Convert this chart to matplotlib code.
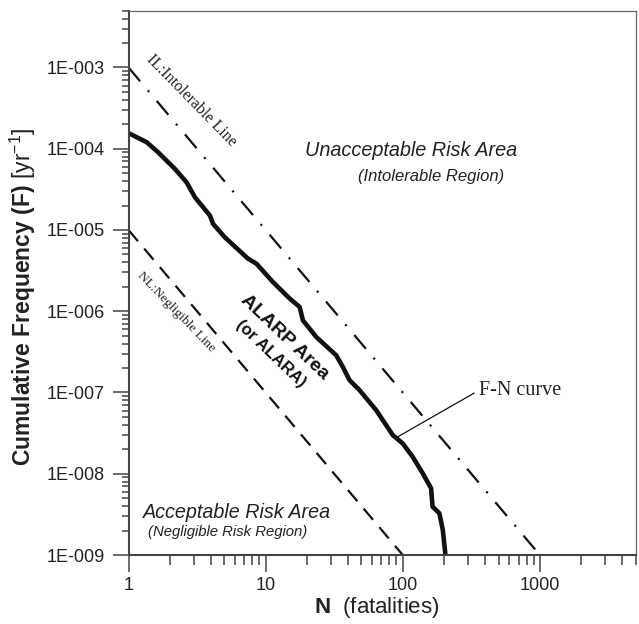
import matplotlib
matplotlib.use("Agg")
import matplotlib.pyplot as plt
from matplotlib.ticker import LogLocator, FuncFormatter, NullFormatter, FixedLocator
import numpy as np

plt.rcParams['font.family'] = ['Liberation Sans', 'DejaVu Sans']
plt.rcParams['mathtext.fontset'] = 'custom'
plt.rcParams['mathtext.rm'] = 'Liberation Sans'
plt.rcParams['mathtext.bf'] = 'Liberation Sans:bold'
plt.rcParams['mathtext.it'] = 'Liberation Sans:italic'
plt.rcParams['lines.scale_dashes'] = False

# F-N curve (fatalities N vs cumulative frequency F per year)
fn_N = [1.0, 1.36, 1.65, 2.18, 2.65, 3.05, 3.92, 4.14, 5.03, 7.45, 8.57, 11.3,
        15.0, 17.7, 18.7, 23.4, 32.7, 36.6, 40.9, 48.4, 64.0, 84.6, 100, 118,
        140, 161, 165, 185, 196, 205]
fn_F = [1.56e-4, 1.2e-4, 9.0e-5, 5.65e-5, 3.87e-5, 2.53e-5, 1.51e-5, 1.19e-5,
        8.16e-6, 4.43e-6, 3.85e-6, 2.29e-6, 1.43e-6, 1.13e-6, 7.73e-7, 4.82e-7,
        2.87e-7, 2.06e-7, 1.42e-7, 1.07e-7, 6.06e-8, 2.99e-8, 2.36e-8, 1.62e-8,
        1.01e-8, 6.62e-9, 3.94e-9, 3.26e-9, 2.03e-9, 1.0e-9]

# Criterion lines: F = C / N^2
il_N = [1, 1000]
il_F = [1e-3, 1e-9]
nl_N = [1, 100]
nl_F = [1e-5, 1e-9]

# annotated point on the F-N curve
fn_label_N, fn_label_F = 92, 2.85e-8

x_major = [1, 10, 100, 1000]
y_major = [1e-9, 1e-8, 1e-7, 1e-6, 1e-5, 1e-4, 1e-3]

W, H = 639, 624
fig = plt.figure(figsize=(W / 100, H / 100), dpi=100)
L, R, T, B = 128.5, 635.7, 10.7, 555.0
ax = fig.add_axes([L / W, 1 - B / H, (R - L) / W, (B - T) / H])
ax.set_xscale('log')
ax.set_yscale('log')
ax.set_xlim(1, 5000)
ax.set_ylim(1e-9, 5e-3)

ink = '#111111'
txt = '#222222'

ax.plot(il_N, il_F, color=ink, lw=1.6, linestyle=(0, (13, 8.5, 1.5, 8.5)),
        solid_capstyle='butt', dash_capstyle='butt')
ax.plot(nl_N, nl_F, color=ink, lw=1.6, linestyle=(0, (10.5, 7)),
        dash_capstyle='butt')
ax.plot(fn_N, fn_F, color=ink, lw=3.3, solid_joinstyle='round')

ax.annotate('F-N curve', xy=(fn_label_N, fn_label_F), xytext=(362, 1.07e-7),
            ha='left', va='center', fontsize=14.5, family='Liberation Serif',
            color=txt,
            arrowprops=dict(arrowstyle='-', lw=0.9, color=ink, shrinkA=2,
                            shrinkB=0, relpos=(0, 0.5)))

def axf(px, py):
    return ((px - L) / (R - L), (B - py) / (B - T))

ax.text(*axf(411.5, 150), 'Unacceptable Risk Area', transform=ax.transAxes,
        ha='center', va='center', fontsize=14.3, style='italic', color=txt)
ax.text(*axf(431, 177), '(Intolerable Region)', transform=ax.transAxes,
        ha='center', va='center', fontsize=12, style='italic', color=txt)
ax.text(*axf(237.5, 512), 'Acceptable Risk Area', transform=ax.transAxes,
        ha='center', va='center', fontsize=14.2, style='italic', color=txt)
ax.text(*axf(228, 532), '(Negligible Risk Region)', transform=ax.transAxes,
        ha='center', va='center', fontsize=10.7, style='italic', color=txt)
ax.text(*axf(285, 337), 'ALARP Area', transform=ax.transAxes,
        ha='center', va='center', fontsize=14, weight='bold', color=ink,
        rotation=-43.6, rotation_mode='anchor')
ax.text(*axf(271, 354), '(or ALARA)', transform=ax.transAxes,
        ha='center', va='center', fontsize=12, weight='bold', color=ink,
        rotation=-43.6, rotation_mode='anchor')
ax.text(*axf(191.7, 100.7), 'IL:Intolerable Line', transform=ax.transAxes,
        ha='center', va='center', fontsize=11.5, family='Liberation Serif',
        color=txt, rotation=-45.6, rotation_mode='anchor')
ax.text(*axf(176, 312), 'NL:Negligible Line', transform=ax.transAxes,
        ha='center', va='center', fontsize=9.6, family='Liberation Serif',
        color=txt, rotation=-46, rotation_mode='anchor')

# axes frame
for s in ('left', 'bottom'):
    ax.spines[s].set_color('#444444')
    ax.spines[s].set_linewidth(1.5)
for s in ('top', 'right'):
    ax.spines[s].set_color('#666666')
    ax.spines[s].set_linewidth(0.9)

ax.xaxis.set_major_locator(FixedLocator(x_major))
ax.xaxis.set_minor_locator(LogLocator(base=10, subs=np.arange(2, 10), numticks=20))
ax.xaxis.set_major_formatter(FuncFormatter(lambda v, p: f'{v:g}'))
ax.xaxis.set_minor_formatter(NullFormatter())
ax.yaxis.set_major_locator(FixedLocator(y_major))
ax.yaxis.set_minor_locator(LogLocator(base=10, subs=np.arange(2, 10), numticks=20))
ax.yaxis.set_major_formatter(
    FuncFormatter(lambda v, p: f'1E-{abs(int(round(np.log10(v)))):03d}'))
ax.yaxis.set_minor_formatter(NullFormatter())

ax.tick_params(axis='both', which='both', direction='out', color='#444444',
               width=1.1, labelcolor=txt, labelsize=13)
ax.tick_params(axis='x', which='major', length=12, pad=3.5)
ax.tick_params(axis='x', which='minor', length=7)
ax.tick_params(axis='y', which='major', length=11.5, pad=5.5)
ax.tick_params(axis='y', which='minor', length=4.8)

fig.text(23 / W, 1 - 296.5 / H,
         r'$\mathbf{Cumulative\ Frequency\ (F)}$ [yr$^{-1}$]',
         rotation=90, ha='center', va='center', fontsize=16.5, color=txt)
fig.text(377 / W, 1 - 607 / H, r'$\mathbf{N}$  (fatalities)',
         ha='center', va='center', fontsize=16, color=txt)

fig.savefig('out.png', dpi=100)
